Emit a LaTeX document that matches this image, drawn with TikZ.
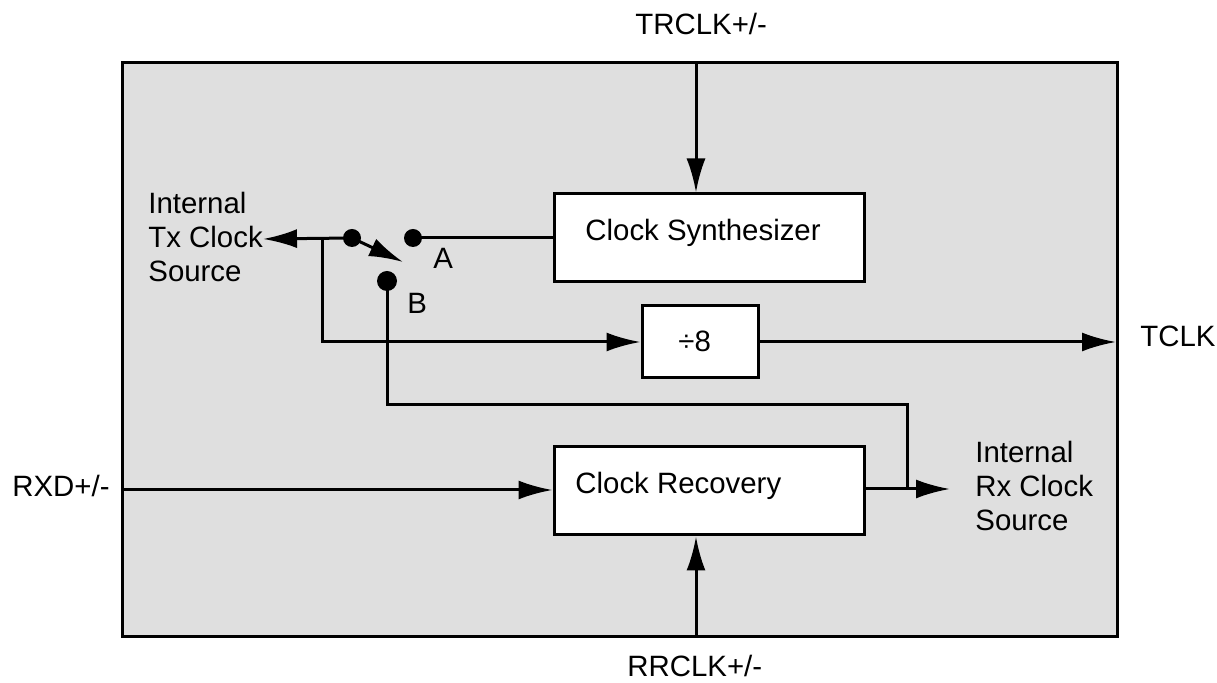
\documentclass[tikz,border=0pt]{standalone}
\usepackage{fontspec}
\setmainfont{Liberation Sans}
\usetikzlibrary{arrows.meta}
\definecolor{panel}{RGB}{223,223,223}
\begin{document}
\begin{tikzpicture}[x=0.5pt,y=-0.5pt,
  font=\fontsize{14.7}{17}\selectfont,
  wire/.style={line width=1.5pt},
  arr/.style={wire,-{Latex[length=17pt,width=9.5pt]}},
  blk/.style={draw,line width=1.5pt,fill=white,rectangle,inner sep=0pt},
  lbl/.style={anchor=base west,inner sep=0pt,align=left},
  dot/.style={circle,fill=black,inner sep=0pt,minimum size=9pt}]
\useasboundingbox (0,0) rectangle (1217,683);
% outer panel
\node[draw,line width=1.5pt,fill=panel,rectangle,inner sep=0pt,minimum width=497.5pt,minimum height=287pt] (outer) at (619.5,350) {};
% blocks
\node[blk,minimum width=155pt,minimum height=44pt] (synth) at (709,238) {};
\node[lbl] (synthtxt) at (585,241) {Clock Synthesizer};
\node[blk,minimum width=58pt,minimum height=36pt] (div) at (700,342) {};
\node[lbl] (divtxt) at (678,352) {÷8};
\node[blk,minimum width=155pt,minimum height=44pt] (rec) at (709,491) {};
\node[lbl] (rectxt) at (575,494) {Clock Recovery};
% external labels
\node[lbl] (trclk) at (635,35) {TRCLK+/-};
\node[lbl] (rrclk) at (627,677) {RRCLK+/-};
\node[lbl] (rxd) at (12,497) {RXD+/-};
\node[lbl] (tclk) at (1140,347) {TCLK};
\node[lbl] (txsrc) at (148,282) {Internal\\Tx Clock\\Source};
\node[lbl] (rxsrc) at (975,531) {Internal\\Rx Clock\\Source};
\node[lbl] (la) at (433,269) {A};
\node[lbl] (lb) at (407,314) {B};
% switch
\node[dot] (dotL) at (352,238) {};
\node[dot] (dotA) at (413,238) {};
\node[dot,minimum height=10pt] (dotB) at (387,281) {};
% coordinates
\coordinate (trtop) at (696,63);
\coordinate (rrbot) at (696,637);
\coordinate (rxdin) at (122,490);
\coordinate (txtip) at (263,239);
\coordinate (junc) at (322,239);
\coordinate (swtip) at (403,262);
\coordinate (bturn) at (907,405);
\coordinate (rxtip) at (950,489);
\coordinate (tclktip) at (1116,342);
% connectors
\draw[arr] (trtop) -- (trtop |- synth.north);
\draw[arr] (rrbot) -- (rrbot |- rec.south);
\draw[arr] (rxdin) -- (rxdin -| rec.west);
\draw[wire] (dotA.center) -- (dotA.center -| synth.west);
\draw[arr] (dotL.center) -- (txtip);
\draw[arr] (junc) |- (div.west);
\draw[arr,shorten <=-1pt] (dotL.center) -- (swtip);
\draw[wire] (dotB.center) |- (bturn) -- (bturn |- rxtip);
\draw[arr] (rxtip -| rec.east) -- (rxtip);
\draw[arr] (div.east) -- (tclktip);
\end{tikzpicture}
\end{document}
